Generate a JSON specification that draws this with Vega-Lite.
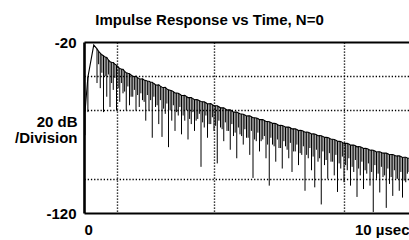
{
  "$schema": "https://vega.github.io/schema/vega-lite/v6.json",
  "width": 325,
  "height": 171,
  "autosize": {"type": "none"},
  "padding": {"left": 84, "top": 42, "right": 0, "bottom": 27},
  "background": "white",
  "view": {"stroke": null},
  "title": {
    "text": "Impulse Response vs Time,  N=0",
    "font": "Liberation Sans",
    "fontSize": 15,
    "fontWeight": "bold",
    "color": "black",
    "anchor": "middle",
    "dx": -37,
    "dy": 22,
    "baseline": "alphabetic",
    "offset": 17
  },
  "data": {
    "values": [
      {"t": 0.03, "top": -61, "bot": -74.5},
      {"t": 0.12, "top": -40.5, "bot": -61},
      {"t": 0.3, "top": -21.8, "bot": -21.8},
      {"t": 0.4, "top": -24, "bot": -44},
      {"t": 0.45, "top": -25.5, "bot": -33},
      {"t": 0.5, "top": -26.5, "bot": -47},
      {"t": 0.55, "top": -27.5, "bot": -38},
      {"t": 0.6, "top": -28, "bot": -61},
      {"t": 0.65, "top": -28.8, "bot": -40},
      {"t": 0.7, "top": -29, "bot": -52},
      {"t": 0.75, "top": -30.5, "bot": -39},
      {"t": 0.8, "top": -31.5, "bot": -58},
      {"t": 0.85, "top": -31.8, "bot": -44},
      {"t": 0.9, "top": -32, "bot": -48},
      {"t": 0.95, "top": -33, "bot": -41},
      {"t": 1.0, "top": -33.5, "bot": -60},
      {"t": 1.05, "top": -34.5, "bot": -47},
      {"t": 1.1, "top": -35.5, "bot": -55},
      {"t": 1.15, "top": -35.8, "bot": -44},
      {"t": 1.2, "top": -36, "bot": -50},
      {"t": 1.25, "top": -37.2, "bot": -49},
      {"t": 1.3, "top": -38, "bot": -60},
      {"t": 1.35, "top": -38.3, "bot": -46},
      {"t": 1.4, "top": -38.5, "bot": -57},
      {"t": 1.45, "top": -39.3, "bot": -52},
      {"t": 1.5, "top": -40, "bot": -52},
      {"t": 1.55, "top": -40.2, "bot": -48},
      {"t": 1.6, "top": -40, "bot": -60},
      {"t": 1.65, "top": -40.8, "bot": -51},
      {"t": 1.7, "top": -41.5, "bot": -58},
      {"t": 1.75, "top": -41.6, "bot": -50},
      {"t": 1.8, "top": -41.5, "bot": -54},
      {"t": 1.85, "top": -42.2, "bot": -55},
      {"t": 1.9, "top": -42.5, "bot": -66},
      {"t": 1.95, "top": -42.8, "bot": -51},
      {"t": 2.0, "top": -43, "bot": -60},
      {"t": 2.05, "top": -43.5, "bot": -54},
      {"t": 2.1, "top": -43.5, "bot": -76},
      {"t": 2.15, "top": -44.3, "bot": -52},
      {"t": 2.2, "top": -45, "bot": -58},
      {"t": 2.25, "top": -45.2, "bot": -57},
      {"t": 2.3, "top": -45, "bot": -68},
      {"t": 2.35, "top": -45.8, "bot": -54},
      {"t": 2.4, "top": -46.5, "bot": -75.5},
      {"t": 2.45, "top": -46.6, "bot": -59},
      {"t": 2.5, "top": -46.5, "bot": -62},
      {"t": 2.55, "top": -47.4, "bot": -56},
      {"t": 2.6, "top": -48, "bot": -81.5},
      {"t": 2.65, "top": -48.2, "bot": -60},
      {"t": 2.7, "top": -48.5, "bot": -66},
      {"t": 2.75, "top": -49, "bot": -57},
      {"t": 2.8, "top": -49.8, "bot": -72},
      {"t": 2.85, "top": -49.8, "bot": -61},
      {"t": 2.9, "top": -50, "bot": -63},
      {"t": 2.95, "top": -50.6, "bot": -58},
      {"t": 3.0, "top": -51.3, "bot": -74},
      {"t": 3.05, "top": -51.3, "bot": -63},
      {"t": 3.1, "top": -51.2, "bot": -66},
      {"t": 3.15, "top": -51.9, "bot": -60},
      {"t": 3.2, "top": -52.5, "bot": -77},
      {"t": 3.25, "top": -52.5, "bot": -65},
      {"t": 3.3, "top": -52.5, "bot": -68},
      {"t": 3.35, "top": -53.1, "bot": -61},
      {"t": 3.4, "top": -53.8, "bot": -72},
      {"t": 3.45, "top": -53.7, "bot": -66},
      {"t": 3.5, "top": -53.8, "bot": -65},
      {"t": 3.55, "top": -54.3, "bot": -62},
      {"t": 3.6, "top": -54.8, "bot": -93},
      {"t": 3.65, "top": -54.9, "bot": -67},
      {"t": 3.7, "top": -55, "bot": -70},
      {"t": 3.75, "top": -55.5, "bot": -63},
      {"t": 3.8, "top": -56.2, "bot": -76},
      {"t": 3.85, "top": -56.1, "bot": -68},
      {"t": 3.9, "top": -56, "bot": -68},
      {"t": 3.95, "top": -56.7, "bot": -64},
      {"t": 4.0, "top": -57.3, "bot": -72},
      {"t": 4.05, "top": -57.3, "bot": -69},
      {"t": 4.1, "top": -57.3, "bot": -91},
      {"t": 4.15, "top": -57.9, "bot": -66},
      {"t": 4.2, "top": -58.5, "bot": -70},
      {"t": 4.25, "top": -58.5, "bot": -71},
      {"t": 4.3, "top": -58.5, "bot": -78},
      {"t": 4.35, "top": -59.1, "bot": -67},
      {"t": 4.4, "top": -59.8, "bot": -72},
      {"t": 4.45, "top": -59.7, "bot": -72},
      {"t": 4.5, "top": -59.7, "bot": -83},
      {"t": 4.55, "top": -60.3, "bot": -68},
      {"t": 4.6, "top": -61, "bot": -75},
      {"t": 4.65, "top": -60.9, "bot": -73},
      {"t": 4.7, "top": -61, "bot": -88},
      {"t": 4.75, "top": -61.5, "bot": -70},
      {"t": 4.8, "top": -62, "bot": -74},
      {"t": 4.85, "top": -62.1, "bot": -75},
      {"t": 4.9, "top": -62.2, "bot": -80},
      {"t": 4.95, "top": -62.7, "bot": -71},
      {"t": 5.0, "top": -63.3, "bot": -76},
      {"t": 5.05, "top": -63.2, "bot": -76},
      {"t": 5.1, "top": -63.2, "bot": -86},
      {"t": 5.15, "top": -63.7, "bot": -72},
      {"t": 5.2, "top": -64.3, "bot": -99.5},
      {"t": 5.25, "top": -64.3, "bot": -77},
      {"t": 5.3, "top": -64.4, "bot": -78},
      {"t": 5.35, "top": -64.8, "bot": -73},
      {"t": 5.4, "top": -65.4, "bot": -84},
      {"t": 5.45, "top": -65.3, "bot": -78},
      {"t": 5.5, "top": -65.4, "bot": -77},
      {"t": 5.55, "top": -65.9, "bot": -75},
      {"t": 5.6, "top": -66.5, "bot": -88},
      {"t": 5.65, "top": -66.5, "bot": -80},
      {"t": 5.7, "top": -66.6, "bot": -104},
      {"t": 5.75, "top": -67, "bot": -76},
      {"t": 5.8, "top": -67.6, "bot": -80},
      {"t": 5.85, "top": -67.6, "bot": -81},
      {"t": 5.9, "top": -67.7, "bot": -90},
      {"t": 5.95, "top": -68.2, "bot": -77},
      {"t": 6.0, "top": -68.8, "bot": -82},
      {"t": 6.05, "top": -68.7, "bot": -82},
      {"t": 6.1, "top": -68.8, "bot": -94},
      {"t": 6.15, "top": -69.2, "bot": -78},
      {"t": 6.2, "top": -69.8, "bot": -81},
      {"t": 6.25, "top": -69.7, "bot": -83},
      {"t": 6.3, "top": -69.8, "bot": -88},
      {"t": 6.35, "top": -70.2, "bot": -79},
      {"t": 6.4, "top": -70.8, "bot": -96},
      {"t": 6.45, "top": -70.7, "bot": -84},
      {"t": 6.5, "top": -70.8, "bot": -84},
      {"t": 6.55, "top": -71.2, "bot": -80},
      {"t": 6.6, "top": -71.8, "bot": -92},
      {"t": 6.65, "top": -71.7, "bot": -85},
      {"t": 6.7, "top": -71.8, "bot": -86},
      {"t": 6.75, "top": -72.2, "bot": -81},
      {"t": 6.8, "top": -72.8, "bot": -107},
      {"t": 6.85, "top": -72.7, "bot": -86},
      {"t": 6.9, "top": -72.8, "bot": -88},
      {"t": 6.95, "top": -73.2, "bot": -82},
      {"t": 7.0, "top": -73.8, "bot": -95},
      {"t": 7.05, "top": -73.7, "bot": -87},
      {"t": 7.1, "top": -73.8, "bot": -105},
      {"t": 7.15, "top": -74.2, "bot": -83},
      {"t": 7.2, "top": -74.8, "bot": -90},
      {"t": 7.25, "top": -74.7, "bot": -88},
      {"t": 7.3, "top": -74.8, "bot": -115},
      {"t": 7.35, "top": -75.2, "bot": -84},
      {"t": 7.4, "top": -75.8, "bot": -92},
      {"t": 7.45, "top": -75.7, "bot": -89},
      {"t": 7.5, "top": -75.8, "bot": -100},
      {"t": 7.55, "top": -76.3, "bot": -85},
      {"t": 7.6, "top": -76.9, "bot": -90},
      {"t": 7.65, "top": -76.9, "bot": -90},
      {"t": 7.7, "top": -77, "bot": -98},
      {"t": 7.75, "top": -77.5, "bot": -86},
      {"t": 7.8, "top": -78, "bot": -107.7},
      {"t": 7.85, "top": -78.1, "bot": -91},
      {"t": 7.9, "top": -78.2, "bot": -94},
      {"t": 7.95, "top": -78.7, "bot": -87},
      {"t": 8.0, "top": -79.3, "bot": -102},
      {"t": 8.05, "top": -79.2, "bot": -92},
      {"t": 8.1, "top": -79.3, "bot": -95},
      {"t": 8.15, "top": -79.7, "bot": -88},
      {"t": 8.2, "top": -80.3, "bot": -104},
      {"t": 8.25, "top": -80.2, "bot": -93},
      {"t": 8.3, "top": -80.3, "bot": -96},
      {"t": 8.35, "top": -80.7, "bot": -89},
      {"t": 8.4, "top": -81.3, "bot": -110.6},
      {"t": 8.45, "top": -81.2, "bot": -94},
      {"t": 8.5, "top": -81.3, "bot": -98},
      {"t": 8.55, "top": -81.7, "bot": -90},
      {"t": 8.6, "top": -82.3, "bot": -106},
      {"t": 8.65, "top": -82.2, "bot": -95},
      {"t": 8.7, "top": -82.3, "bot": -97},
      {"t": 8.75, "top": -82.7, "bot": -91},
      {"t": 8.8, "top": -83.3, "bot": -104},
      {"t": 8.85, "top": -83.2, "bot": -96},
      {"t": 8.9, "top": -83.3, "bot": -119.4},
      {"t": 8.95, "top": -83.7, "bot": -92},
      {"t": 9.0, "top": -84.3, "bot": -100},
      {"t": 9.05, "top": -84.2, "bot": -97},
      {"t": 9.1, "top": -84.2, "bot": -108},
      {"t": 9.15, "top": -84.6, "bot": -93},
      {"t": 9.2, "top": -85, "bot": -99},
      {"t": 9.25, "top": -85, "bot": -98},
      {"t": 9.3, "top": -85, "bot": -117},
      {"t": 9.35, "top": -85.4, "bot": -94},
      {"t": 9.4, "top": -85.9, "bot": -103},
      {"t": 9.45, "top": -85.8, "bot": -99},
      {"t": 9.5, "top": -85.8, "bot": -110},
      {"t": 9.55, "top": -86.2, "bot": -95},
      {"t": 9.6, "top": -86.7, "bot": -100},
      {"t": 9.65, "top": -86.6, "bot": -100},
      {"t": 9.7, "top": -86.6, "bot": -107},
      {"t": 9.75, "top": -87, "bot": -96},
      {"t": 9.8, "top": -87.5, "bot": -111},
      {"t": 9.85, "top": -87.4, "bot": -101},
      {"t": 9.9, "top": -87.4, "bot": -102},
      {"t": 9.95, "top": -87.8, "bot": -97},
      {"t": 10.0, "top": -88, "bot": -96}
    ]
  },
  "encoding": {
    "x": {
      "field": "t",
      "type": "quantitative",
      "scale": {"domain": [0, 10], "nice": false, "zero": false},
      "axis": {
        "title": null,
        "values": [0, 1, 4, 8, 10],
        "labelExpr": "datum.value == 0 ? '0' : (datum.value == 10 ? '10 µsec' : '')",
        "labelFlush": true,
        "labelOverlap": false,
        "labelFont": "Liberation Sans",
        "labelFontSize": 15,
        "labelFontWeight": "bold",
        "labelColor": "black",
        "labelPadding": 9,
        "ticks": false,
        "tickSize": 0,
        "domain": true,
        "domainColor": "black",
        "domainWidth": 2.2,
        "grid": true,
        "gridColor": "black",
        "gridWidth": 1.4,
        "gridDash": [1.3, 1.7],
        "gridOpacity": {"condition": {"test": "datum.value == 0 || datum.value == 10", "value": 0}, "value": 1}
      }
    },
    "y": {
      "field": "top",
      "type": "quantitative",
      "scale": {"domain": [-120, -20], "nice": false, "zero": false},
      "axis": {
        "title": ["20 dB", "/Division"],
        "titleAngle": 0,
        "titleAlign": "right",
        "titleBaseline": "alphabetic",
        "titleX": -7,
        "titleY": 84.5,
        "titleLineHeight": 16,
        "titleFont": "Liberation Sans",
        "titleFontSize": 15,
        "titleFontWeight": "bold",
        "titleColor": "black",
        "values": [-20, -40, -60, -100, -120],
        "labelExpr": "datum.value == -20 ? '-20' : (datum.value == -120 ? '-120' : '')",
        "labelOverlap": false,
        "labelFont": "Liberation Sans",
        "labelFontSize": 15,
        "labelFontWeight": "bold",
        "labelColor": "black",
        "labelPadding": 8,
        "ticks": false,
        "tickSize": 0,
        "domain": true,
        "domainColor": "black",
        "domainWidth": 2.6,
        "grid": true,
        "gridColor": "black",
        "gridWidth": {"condition": {"test": "datum.value == -20", "value": 2.2}, "value": 1.4},
        "gridDash": {"condition": {"test": "datum.value == -20", "value": [1, 0]}, "value": [1.3, 1.9]},
        "gridOpacity": {"condition": {"test": "datum.value == -120", "value": 0}, "value": 1}
      }
    }
  },
  "layer": [
    {
      "mark": {"type": "rule", "color": "black", "strokeWidth": 1},
      "encoding": {"y2": {"field": "bot"}}
    },
    {
      "mark": {"type": "line", "color": "black", "strokeWidth": 1.1},
      "encoding": {}
    }
  ]
}
